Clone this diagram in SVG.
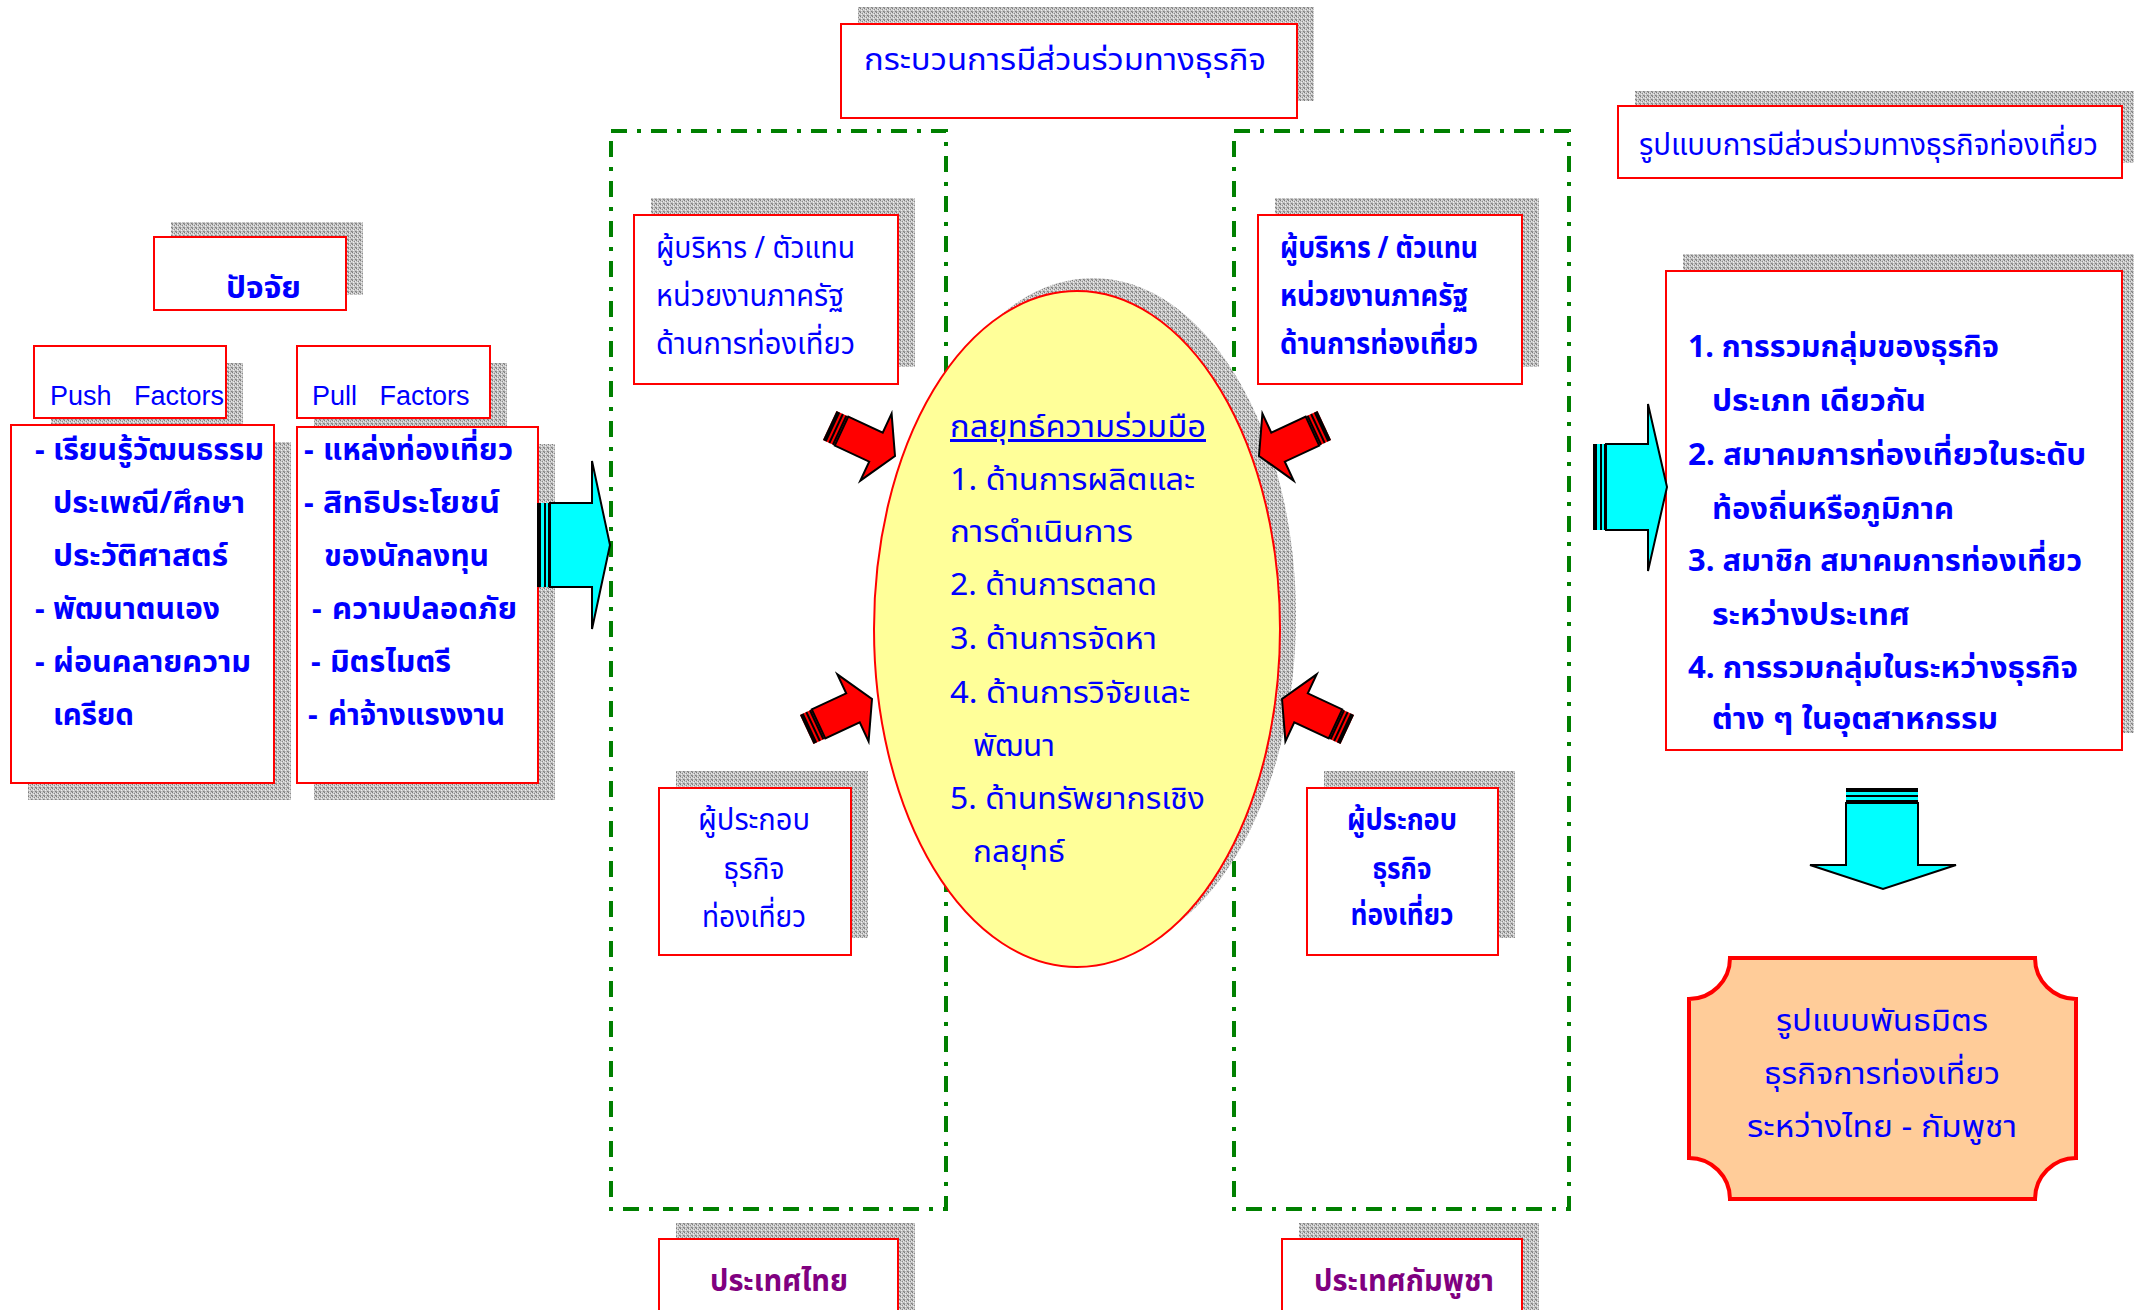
<svg xmlns="http://www.w3.org/2000/svg" width="2134" height="1310" viewBox="0 0 2134 1310">
<style>
.t{font-family:'Noto Sans Thai','Noto Sans','DejaVu Sans',sans-serif;fill:#0000FF;font-size:30px}
.b{font-weight:bold}
.lat{font-family:'Liberation Sans',Arial,sans-serif;fill:#0000FF;font-size:27px;white-space:pre}
.pur{fill:#800080}
.box{fill:#FFFFFF;stroke:#FF0000;stroke-width:2}
.sh{fill:url(#tex)}
.grn{fill:none;stroke:#008000;stroke-width:4;stroke-dasharray:16 10 4 10}
.cy{fill:#00FFFF;stroke:#000;stroke-width:2;stroke-linejoin:miter}
.rd{fill:#FF0000;stroke:#000;stroke-width:2}
.mid{text-anchor:middle}
</style>
<defs>
<pattern id="tex" width="4" height="4" patternUnits="userSpaceOnUse">
<rect width="4" height="4" fill="#c4c4c4"/>
<rect x="0" y="0" width="1" height="1" fill="#7a7a7a"/>
<rect x="2" y="1" width="1" height="1" fill="#8c8c8c"/>
<rect x="1" y="2" width="1" height="1" fill="#f0f0f0"/>
<rect x="3" y="3" width="1" height="1" fill="#808080"/>
<rect x="3" y="1" width="1" height="1" fill="#e8e8e8"/>
<rect x="1" y="0" width="1" height="1" fill="#dddddd"/>
<rect x="0" y="3" width="1" height="1" fill="#9a9a9a"/>
</pattern>
<g id="redArrow">
<rect x="-72" y="-16" width="13" height="32" fill="#FF0000"/>
<rect x="-72" y="-16" width="4" height="32" fill="#000"/>
<rect x="-66" y="-16" width="2" height="32" fill="#000"/>
<rect x="-62" y="-16" width="2" height="32" fill="#000"/>
<polygon class="rd" points="-59,-16 -21,-16 -21,-37 0,0 -21,37 -21,16 -59,16"/>
</g>
</defs>

<g id="frames">
<rect class="grn" x="611" y="131" width="335" height="1078"/>
<rect class="grn" x="1234" y="131" width="335" height="1078"/>
</g>

<g id="title">
<rect class="sh" x="858" y="7" width="456" height="94"/>
<rect class="box" x="841" y="24" width="456" height="94"/>
<text class="t" x="864" y="70" font-size="38" textLength="402" lengthAdjust="spacingAndGlyphs">กระบวนการมีส่วนร่วมทางธุรกิจ</text>
</g>

<g id="factors">
<rect class="sh" x="171" y="222" width="192" height="73"/>
<rect class="box" x="154" y="237" width="192" height="73"/>
<text class="t b" x="226" y="298" font-size="34" textLength="75" lengthAdjust="spacingAndGlyphs">ปัจจัย</text>
</g>

<g id="push-factors">
<rect class="sh" x="51" y="363" width="192" height="72"/>
<rect class="box" x="34" y="346" width="192" height="72"/>
<text class="lat" x="50" y="405">Push   Factors</text>
</g>

<g id="pull-factors">
<rect class="sh" x="314" y="363" width="193" height="72"/>
<rect class="box" x="297" y="346" width="193" height="72"/>
<text class="lat" x="312" y="405">Pull   Factors</text>
</g>

<g id="push-list">
<rect class="sh" x="28" y="442" width="263" height="358"/>
<rect class="box" x="11" y="425" width="263" height="358"/>
<g class="t b" font-size="32">
<text x="35" y="460">-</text><text x="53" y="460" textLength="211" lengthAdjust="spacingAndGlyphs">เรียนรู้วัฒนธรรม</text>
<text x="53" y="513" textLength="192" lengthAdjust="spacingAndGlyphs">ประเพณี/ศึกษา</text>
<text x="53" y="566" textLength="175" lengthAdjust="spacingAndGlyphs">ประวัติศาสตร์</text>
<text x="35" y="619">-</text><text x="53" y="619" textLength="167" lengthAdjust="spacingAndGlyphs">พัฒนาตนเอง</text>
<text x="35" y="672">-</text><text x="53" y="672" textLength="198" lengthAdjust="spacingAndGlyphs">ผ่อนคลายความ</text>
<text x="53" y="725" textLength="81" lengthAdjust="spacingAndGlyphs">เครียด</text>
</g>
</g>

<g id="pull-list">
<rect class="sh" x="314" y="444" width="241" height="356"/>
<rect class="box" x="297" y="427" width="241" height="356"/>
<g class="t b" font-size="32">
<text x="304" y="460">-</text><text x="323" y="460" textLength="190" lengthAdjust="spacingAndGlyphs">แหล่งท่องเที่ยว</text>
<text x="304" y="513">-</text><text x="323" y="513" textLength="177" lengthAdjust="spacingAndGlyphs">สิทธิประโยชน์</text>
<text x="324" y="566" textLength="165" lengthAdjust="spacingAndGlyphs">ของนักลงทุน</text>
<text x="312" y="619">-</text><text x="332" y="619" textLength="185" lengthAdjust="spacingAndGlyphs">ความปลอดภัย</text>
<text x="311" y="672">-</text><text x="330" y="672" textLength="121" lengthAdjust="spacingAndGlyphs">มิตรไมตรี</text>
<text x="308" y="725">-</text><text x="328" y="725" textLength="177" lengthAdjust="spacingAndGlyphs">ค่าจ้างแรงงาน</text>
</g>
</g>

<g id="th-officials">
<rect class="sh" x="651" y="198" width="264" height="169"/>
<rect class="box" x="634" y="215" width="264" height="169"/>
<g class="t" font-size="33">
<text x="656" y="258" textLength="199" lengthAdjust="spacingAndGlyphs">ผู้บริหาร / ตัวแทน</text>
<text x="656" y="306" textLength="188" lengthAdjust="spacingAndGlyphs">หน่วยงานภาครัฐ</text>
<text x="656" y="354" textLength="199" lengthAdjust="spacingAndGlyphs">ด้านการท่องเที่ยว</text>
</g>
</g>

<g id="kh-officials">
<rect class="sh" x="1275" y="198" width="264" height="169"/>
<rect class="box" x="1258" y="215" width="264" height="169"/>
<g class="t b" font-size="31">
<text x="1280" y="258" textLength="198" lengthAdjust="spacingAndGlyphs">ผู้บริหาร / ตัวแทน</text>
<text x="1280" y="306" textLength="188" lengthAdjust="spacingAndGlyphs">หน่วยงานภาครัฐ</text>
<text x="1280" y="354" textLength="198" lengthAdjust="spacingAndGlyphs">ด้านการท่องเที่ยว</text>
</g>
</g>

<g id="th-operators">
<rect class="sh" x="676" y="771" width="192" height="167"/>
<rect class="box" x="659" y="788" width="192" height="167"/>
<g class="t mid" font-size="33">
<text x="754" y="830" textLength="112" lengthAdjust="spacingAndGlyphs">ผู้ประกอบ</text>
<text x="754" y="879" textLength="61" lengthAdjust="spacingAndGlyphs">ธุรกิจ</text>
<text x="754" y="927" textLength="104" lengthAdjust="spacingAndGlyphs">ท่องเที่ยว</text>
</g>
</g>

<g id="kh-operators">
<rect class="sh" x="1324" y="771" width="191" height="167"/>
<rect class="box" x="1307" y="788" width="191" height="167"/>
<g class="t b mid" font-size="31">
<text x="1402" y="830" textLength="110" lengthAdjust="spacingAndGlyphs">ผู้ประกอบ</text>
<text x="1402" y="879" textLength="59" lengthAdjust="spacingAndGlyphs">ธุรกิจ</text>
<text x="1402" y="925" textLength="103" lengthAdjust="spacingAndGlyphs">ท่องเที่ยว</text>
</g>
</g>

<g id="strategy">
<ellipse class="sh" cx="1093" cy="616" rx="203" ry="338"/>
<ellipse cx="1077" cy="629" rx="203" ry="338" fill="#FFFF99" stroke="#FF0000" stroke-width="2"/>
<g class="t" font-size="37">
<text x="950" y="437" textLength="256" lengthAdjust="spacingAndGlyphs" text-decoration="underline">กลยุทธ์ความร่วมมือ</text>
<text x="950" y="490" textLength="245" lengthAdjust="spacingAndGlyphs">1. ด้านการผลิตและ</text>
<text x="950" y="542" textLength="183" lengthAdjust="spacingAndGlyphs">การดำเนินการ</text>
<text x="950" y="595" textLength="207" lengthAdjust="spacingAndGlyphs">2. ด้านการตลาด</text>
<text x="950" y="649" textLength="207" lengthAdjust="spacingAndGlyphs">3. ด้านการจัดหา</text>
<text x="950" y="703" textLength="240" lengthAdjust="spacingAndGlyphs">4. ด้านการวิจัยและ</text>
<text x="973" y="756" textLength="82" lengthAdjust="spacingAndGlyphs">พัฒนา</text>
<text x="950" y="809" textLength="255" lengthAdjust="spacingAndGlyphs">5. ด้านทรัพยากรเชิง</text>
<text x="973" y="862" textLength="92" lengthAdjust="spacingAndGlyphs">กลยุทธ์</text>
</g>
</g>

<g id="model-title">
<rect class="sh" x="1635" y="91" width="504" height="72"/>
<rect class="box" x="1618" y="106" width="504" height="72" stroke-width="3"/>
<text class="t" x="1639" y="155" font-size="32" textLength="459" lengthAdjust="spacingAndGlyphs">รูปแบบการมีส่วนร่วมทางธุรกิจท่องเที่ยว</text>
</g>

<g id="model-list">
<rect class="sh" x="1683" y="254" width="456" height="479"/>
<rect class="box" x="1666" y="271" width="456" height="479"/>
<g class="t b" font-size="31">
<text x="1688" y="357" textLength="311" lengthAdjust="spacingAndGlyphs">1. การรวมกลุ่มของธุรกิจ</text>
<text x="1712" y="411" textLength="214" lengthAdjust="spacingAndGlyphs">ประเภท เดียวกัน</text>
<text x="1688" y="465" textLength="398" lengthAdjust="spacingAndGlyphs">2. สมาคมการท่องเที่ยวในระดับ</text>
<text x="1712" y="519" textLength="242" lengthAdjust="spacingAndGlyphs">ท้องถิ่นหรือภูมิภาค</text>
<text x="1688" y="571" textLength="394" lengthAdjust="spacingAndGlyphs">3. สมาชิก สมาคมการท่องเที่ยว</text>
<text x="1712" y="625" textLength="198" lengthAdjust="spacingAndGlyphs">ระหว่างประเทศ</text>
<text x="1688" y="678" textLength="390" lengthAdjust="spacingAndGlyphs">4. การรวมกลุ่มในระหว่างธุรกิจ</text>
<text x="1712" y="729" textLength="286" lengthAdjust="spacingAndGlyphs">ต่าง ๆ ในอุตสาหกรรม</text>
</g>
</g>

<g id="partnership">
<path d="M1730,958 L2035,958 A41,41 0 0 0 2076,999 L2076,1158 A41,41 0 0 0 2035,1199 L1730,1199 A41,41 0 0 0 1689,1158 L1689,999 A41,41 0 0 0 1730,958 Z" fill="#FFCC99" stroke="#FF0000" stroke-width="4"/>
<g class="t mid" font-size="34">
<text x="1882" y="1031" textLength="212" lengthAdjust="spacingAndGlyphs">รูปแบบพันธมิตร</text>
<text x="1882" y="1084" textLength="236" lengthAdjust="spacingAndGlyphs">ธุรกิจการท่องเที่ยว</text>
<text x="1882" y="1137" textLength="270" lengthAdjust="spacingAndGlyphs">ระหว่างไทย - กัมพูชา</text>
</g>
</g>

<g id="thailand">
<rect class="sh" x="676" y="1223" width="239" height="100"/>
<rect class="box" x="659" y="1239" width="239" height="100"/>
<text class="t pur mid b" x="779" y="1291" font-size="33" textLength="138" lengthAdjust="spacingAndGlyphs">ประเทศไทย</text>
</g>

<g id="cambodia">
<rect class="sh" x="1299" y="1223" width="240" height="100"/>
<rect class="box" x="1282" y="1239" width="240" height="100"/>
<text class="t pur mid b" x="1404" y="1291" font-size="33" textLength="180" lengthAdjust="spacingAndGlyphs">ประเทศกัมพูชา</text>
</g>

<g id="connectors">
<g id="arrow-factors">
<rect x="537" y="503" width="13" height="84" fill="#00FFFF"/>
<rect x="537" y="503" width="4" height="84" fill="#000"/>
<rect x="544" y="503" width="2" height="84" fill="#000"/>
<rect x="548" y="503" width="2" height="84" fill="#000"/>
<polygon class="cy" points="550,503 592,503 592,461 610,545 592,629 592,587 550,587"/>
</g>
<g id="arrow-model">
<rect x="1593" y="444" width="13" height="86" fill="#00FFFF"/>
<rect x="1593" y="444" width="4" height="86" fill="#000"/>
<rect x="1600" y="444" width="2" height="86" fill="#000"/>
<rect x="1604" y="444" width="2" height="86" fill="#000"/>
<polygon class="cy" points="1606,444 1648,444 1648,404 1667,487 1648,571 1648,530 1606,530"/>
</g>
<g id="arrow-down">
<rect x="1846" y="788" width="72" height="15" fill="#00FFFF"/>
<rect x="1846" y="788" width="72" height="4" fill="#000"/>
<rect x="1846" y="795" width="72" height="2" fill="#000"/>
<rect x="1846" y="800" width="72" height="2" fill="#000"/>
<polygon class="cy" points="1846,803 1846,865 1810,865 1883,889 1956,865 1918,865 1918,803"/>
</g>
<use href="#redArrow" transform="translate(895,456) rotate(25)"/>
<use href="#redArrow" transform="translate(872,699) rotate(-25)"/>
<use href="#redArrow" transform="translate(1259,456) rotate(155)"/>
<use href="#redArrow" transform="translate(1282,699) rotate(205)"/>
</g>
</svg>
